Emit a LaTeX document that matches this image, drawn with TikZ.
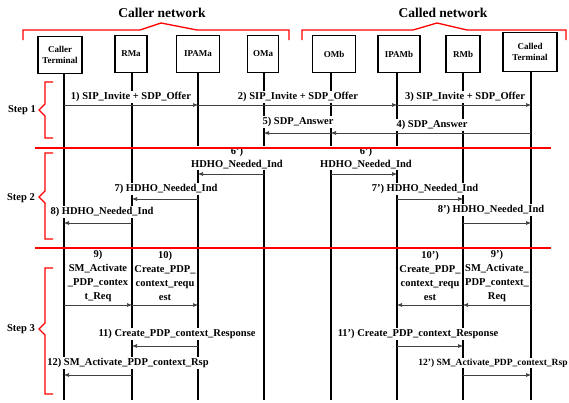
\documentclass[tikz,border=0pt]{standalone}
\usepackage{fontspec}
\setmainfont{Liberation Serif}
\usetikzlibrary{arrows.meta}
\tikzset{
  entity/.style={draw,line width=1.6pt,minimum height=37pt,inner sep=1pt,align=center,font=\fontsize{9}{10.5}\selectfont\bfseries},
  life/.style={line width=1.6pt},
  msg/.style={line width=0.6pt,black!75,-{Latex[length=5pt,width=4pt]}},
  lbl/.style={fill=white,inner sep=1pt,align=center,font=\fontsize{10.5}{13}\selectfont\bfseries},
  mlbl/.style={inner sep=0pt,align=center,font=\fontsize{10.5}{14}\selectfont\bfseries},
  redline/.style={red,line width=1.3pt},
  steplbl/.style={inner sep=0pt,font=\fontsize{10.5}{12}\selectfont\bfseries},
  netlbl/.style={inner sep=0pt,font=\fontsize{13.5}{16}\selectfont\bfseries}
}
\begin{document}
\begin{tikzpicture}[x=1pt,y=-1pt]
\useasboundingbox[fill=white] (0,0) rectangle (569,402);

\node[entity,minimum width=44pt] (ct) at (60,55) {Caller\\Terminal};
\node[entity,minimum width=32pt] (rma) at (131,54) {RMa};
\node[entity,minimum width=43pt] (ipama) at (198,54) {IPAMa};
\node[entity,minimum width=31pt] (oma) at (263,54) {OMa};
\node[entity,minimum width=43pt] (omb) at (334,54) {OMb};
\node[entity,minimum width=42pt] (ipamb) at (399,54) {IPAMb};
\node[entity,minimum width=34pt] (rmb) at (463,54) {RMb};
\node[entity,minimum width=54pt,minimum height=39pt] (cd) at (530,52) {Called\\Terminal};

\coordinate (ctx) at (64,400);
\coordinate (rmax) at (132,400);
\coordinate (ipamax) at (198,400);
\coordinate (omax) at (264,400);
\coordinate (ombx) at (331,400);
\coordinate (ipambx) at (397,400);
\coordinate (rmbx) at (463,400);
\coordinate (cdx) at (531,400);

\draw[life] (ctx |- ct.south) -- (ctx);
\draw[life] (rmax |- rma.south) -- (rmax);
\draw[life] (ipamax |- ipama.south) -- (ipamax);
\draw[life] (omax |- oma.south) -- (omax);
\draw[life] (ombx |- omb.south) -- (ombx);
\draw[life] (ipambx |- ipamb.south) -- (ipambx);
\draw[life] (rmbx |- rmb.south) -- (rmbx);
\draw[life] (cdx |- cd.south) -- (cdx);

\node[lbl] (l1) at (131,97) {1) SIP\_Invite + SDP\_Offer};
\node[lbl] (l2) at (298,97) {2) SIP\_Invite + SDP\_Offer};
\node[lbl] (l3) at (465,97) {3) SIP\_Invite + SDP\_Offer};
\node[lbl] (l5) at (298,122) {5) SDP\_Answer};
\node[lbl] (l4) at (432,125) {4) SDP\_Answer};
\draw[msg] (ctx |- 0,105) -- (ipamax |- 0,105);
\draw[msg] (ipamax |- 0,105) -- (ipambx |- 0,105);
\draw[msg] (ipambx |- 0,105) -- (cdx |- 0,105);
\draw[msg] (cdx |- 0,133) -- (ombx |- 0,133);
\draw[msg] (ombx |- 0,133) -- (omax |- 0,133);

\node[lbl] (l6) at (237,158) {6')\\HDHO\_Needed\_Ind};
\node[lbl] (l6b) at (366,158) {6')\\HDHO\_Needed\_Ind};
\node[lbl] (l7) at (166,189) {7) HDHO\_Needed\_Ind};
\node[lbl] (l7b) at (425,189) {7') HDHO\_Needed\_Ind};
\node[lbl] (l8) at (102,212) {8) HDHO\_Needed\_Ind};
\node[lbl] (l8b) at (491,210) {8') HDHO\_Needed\_Ind};
\draw[msg] (omax |- 0,174) -- (ipamax |- 0,174);
\draw[msg] (ombx |- 0,174) -- (ipambx |- 0,174);
\draw[msg] (ipamax |- 0,199) -- (rmax |- 0,199);
\draw[msg] (ipambx |- 0,199) -- (rmbx |- 0,199);
\draw[msg] (rmax |- 0,223) -- (ctx |- 0,223);
\draw[msg] (rmbx |- 0,223) -- (cdx |- 0,223);

\node[mlbl] (l9) at (98,276) {9)\\SM\_Activate\\\_PDP\_contex\\t\_Req};
\node[mlbl] (l10) at (165,276) {10)\\Create\_PDP\_\\context\_requ\\est};
\node[mlbl] (l10b) at (430,276) {10')\\Create\_PDP\_\\context\_requ\\est};
\node[mlbl] (l9b) at (497,276) {9')\\SM\_Activate\_\\PDP\_context\_\\Req};
\node[lbl] (l11) at (177,334) {11) Create\_PDP\_context\_Response};
\node[lbl] (l11b) at (418,334) {11') Create\_PDP\_context\_Response};
\node[lbl] (l12) at (128,363) {12) SM\_Activate\_PDP\_context\_Rsp};
\node[lbl,font=\fontsize{9.5}{12}\selectfont\bfseries] (l12b) at (493,363) {12') SM\_Activate\_PDP\_context\_Rsp};
\draw[msg] (ctx |- 0,305) -- (rmax |- 0,305);
\draw[msg] (rmax |- 0,305) -- (ipamax |- 0,305);
\draw[msg] (rmbx |- 0,305) -- (ipambx |- 0,305);
\draw[msg] (cdx |- 0,305) -- (rmbx |- 0,305);
\draw[msg] (ipamax |- 0,346) -- (rmax |- 0,346);
\draw[msg] (ipambx |- 0,346) -- (rmbx |- 0,346);
\draw[msg] (rmax |- 0,375) -- (ctx |- 0,375);
\draw[msg] (rmbx |- 0,375) -- (cdx |- 0,375);

\draw[redline] (35,148) -- (551,148);
\draw[redline] (35,248) -- (551,248);

\draw[redline] (23,40) -- (23,30) -- (140,30) -- (161,23) -- (197,30) -- (289,30) -- (289,40);
\draw[redline] (302,40) -- (302,30) -- (413,30) -- (437,23) -- (467,30) -- (566,30) -- (566,40);
\node[netlbl] (caller) at (162,13) {Caller network};
\node[netlbl] (called) at (443,13) {Called network};

\draw[redline] (53,82) -- (45,82) -- (45,104) -- (39,110) -- (45,116) -- (45,138) -- (53,138);
\draw[redline] (53,153) -- (45,153) -- (45,191) -- (39,197) -- (45,203) -- (45,239) -- (53,239);
\draw[redline] (53,268) -- (45,268) -- (45,323) -- (39,329) -- (45,335) -- (45,394) -- (53,394);
\node[steplbl] (s1) at (22,110) {Step 1};
\node[steplbl] (s2) at (21,198) {Step 2};
\node[steplbl] (s3) at (21,329) {Step 3};
\end{tikzpicture}
\end{document}
